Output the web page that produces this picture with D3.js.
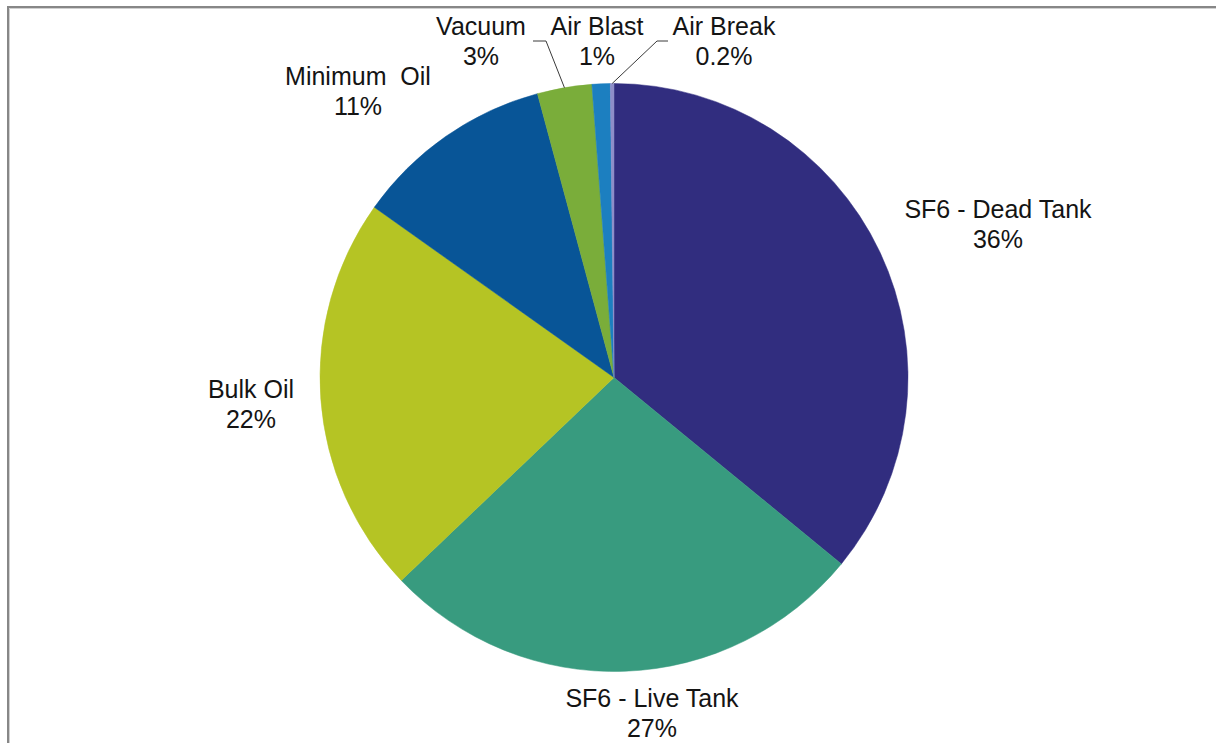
<!DOCTYPE html>
<html>
<head>
<meta charset="utf-8">
<script src="https://cdn.jsdelivr.net/npm/d3@7"></script>
<style>
  html, body { margin: 0; padding: 0; background: #fff; }
  svg { display: block; }
  text { font-family: Arial, "Liberation Sans", sans-serif; fill: #141414; }
</style>
</head>
<body>
<svg id="chart" width="1216" height="743"></svg>
<script>
// Circuit breaker population by interrupting medium (percent)
const categories = ["SF6 - Dead Tank", "SF6 - Live Tank", "Bulk Oil", "Minimum  Oil", "Vacuum", "Air Blast", "Air Break"];
const shares = [36, 27, 22, 11, 3, 1, 0.2];
const shareLabels = ["36%", "27%", "22%", "11%", "3%", "1%", "0.2%"];
const colors = ["#312d7f", "#389b7f", "#b5c424", "#085597", "#7aad3a", "#1c7fc0", "#8e8ec9"];

// Label anchor (centre x, first baseline y) for each slice, plus optional leader elbow
const labelLayout = {
  "SF6 - Dead Tank": { x: 998, y: 218 },
  "SF6 - Live Tank": { x: 652, y: 707 },
  "Bulk Oil":        { x: 251, y: 398 },
  "Minimum  Oil":    { x: 358, y: 85 },
  "Vacuum":          { x: 481, y: 35, leader: { x0: 533, x1: 546, y: 41 } },
  "Air Blast":       { x: 597, y: 35 },
  "Air Break":       { x: 724, y: 35, leader: { x0: 668, x1: 657, y: 41 } }
};

const svg = d3.select("#chart");
const cx = 614, cy = 377.5, radius = 294;

// Frame
svg.append("path")
  .attr("d", "M9.5,743 V8.5 H1216")
  .attr("fill", "none").attr("stroke", "#d0d0d0").attr("stroke-width", 1);
svg.append("path")
  .attr("d", "M8,743 V7 H1216")
  .attr("fill", "none").attr("stroke", "#878787").attr("stroke-width", 2);

const data = categories.map((c, i) => ({ name: c, value: shares[i], label: shareLabels[i], color: colors[i] }));

const pie = d3.pie().value(d => d.value).sort(null).startAngle(0).endAngle(2 * Math.PI);
const arcs = pie(data);
const arc = d3.arc().innerRadius(0).outerRadius(radius);

const g = svg.append("g").attr("transform", `translate(${cx},${cy})`);
g.selectAll("path.slice")
  .data(arcs)
  .join("path")
  .attr("class", "slice")
  .attr("d", arc)
  .attr("fill", d => d.data.color)
  .attr("stroke", d => d.data.color)
  .attr("stroke-width", 0.5);

// Leader lines from label elbow to slice edge
arcs.forEach(a => {
  const L = labelLayout[a.data.name];
  if (!L.leader) return;
  const mid = (a.startAngle + a.endAngle) / 2;
  const ex = cx + radius * Math.sin(mid);
  const ey = cy - radius * Math.cos(mid);
  svg.append("polyline")
    .attr("points", `${L.leader.x0},${L.leader.y} ${L.leader.x1},${L.leader.y} ${ex},${ey}`)
    .attr("fill", "none")
    .attr("stroke", "#3a3a3a")
    .attr("stroke-width", 1);
});

// Category and percentage labels
arcs.forEach(a => {
  const L = labelLayout[a.data.name];
  const t = svg.append("text")
    .attr("text-anchor", "middle")
    .attr("font-size", 25)
    .attr("xml:space", "preserve")
    .style("white-space", "pre");
  t.append("tspan").attr("x", L.x).attr("y", L.y).text(a.data.name);
  t.append("tspan").attr("x", L.x).attr("y", L.y + 30).text(a.data.label);
});
</script>
</body>
</html>
